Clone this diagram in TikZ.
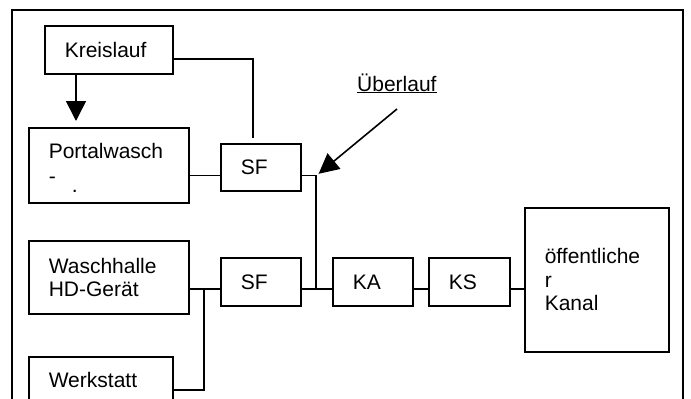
\documentclass[tikz,border=0pt]{standalone}
\usepackage{fontspec}
\setmainfont{Liberation Sans}
\usetikzlibrary{positioning,arrows.meta}

\begin{document}
\begin{tikzpicture}[
x=1pt,y=-1pt,
box/.style={
    rectangle,
    draw=black,
    line width=1.6pt,
    anchor=north west,
    inner xsep=20pt,
    inner ysep=0pt,
    align=left,
    font=\fontsize{21}{23.5}\selectfont
},
line/.style={line width=1.6pt},
arrow/.style={-{Triangle[length=20pt,width=20pt]},line width=1.6pt},
frame/.style={line width=2pt}
]
\useasboundingbox (0,0) rectangle (691,399);

\draw[frame] (12,420) |- (683,10) -- (683,420);

\node[box,text width=88pt,minimum height=48pt] (kreis) at (44,25) {Kreislauf};
\node[box,text width=120pt,minimum height=75pt] (portal) at (28,127) {\rule{0pt}{21pt}Portalwasch\\[1.5pt]-\\[-14.5pt]\hspace*{23pt}.};
\node[box,text width=40pt,minimum height=47pt] (sfa) at (220,143) {SF};
\node[box,text width=120pt,minimum height=73pt] (wasch) at (28,240) {Waschhalle\\HD-Gerät};
\node[box,text width=40pt,minimum height=48pt] (sfb) at (220,257) {SF};
\node[box,text width=104pt,minimum height=46pt] (werk) at (28,356) {Werkstatt};
\node[box,text width=40pt,minimum height=48pt] (ka) at (332,257) {KA};
\node[box,text width=41pt,minimum height=48pt] (ks) at (428,257) {KS};
\node[box,text width=104pt,minimum height=144pt] (kanal) at (524,207) {öffentliche\\r\\Kanal};
\node[anchor=base west,inner sep=0pt,font=\fontsize{21}{23.5}\selectfont] (ueber) at (357,91) {\underline{Überlauf}};

\coordinate (jw) at (204,289);
\coordinate (jn) at (316,289);
\coordinate (ov) at (397,109);

% Zuläufe
\draw[arrow,shorten >=6pt] ([xshift=32pt]kreis.south west) -- ([xshift=48pt]portal.north west);
\draw[line,shorten >=5pt] ([yshift=-9pt]kreis.east) -| ([xshift=-8pt]sfa.north);
\draw[line] ([yshift=-10pt]portal.east) -- ([yshift=-8pt]sfa.west);
\draw[line] ([yshift=-8pt]sfa.east) -| (jn);
\draw[line] (jw -| wasch.east) -- (jw -| sfb.west);
\draw[line] (jw) |- ([yshift=-10pt]werk.east);

% Hauptstrang
\draw[line] (jn -| sfb.east) -- (jn -| ka.west);
\draw[line] (jn -| ka.east) -- (jn -| ks.west);
\draw[line] (jn -| ks.east) -- (jn -| kanal.west);

\draw[arrow] (ov) -- ([xshift=17pt,yshift=-6.5pt]sfa.east);

\end{tikzpicture}
\end{document}
